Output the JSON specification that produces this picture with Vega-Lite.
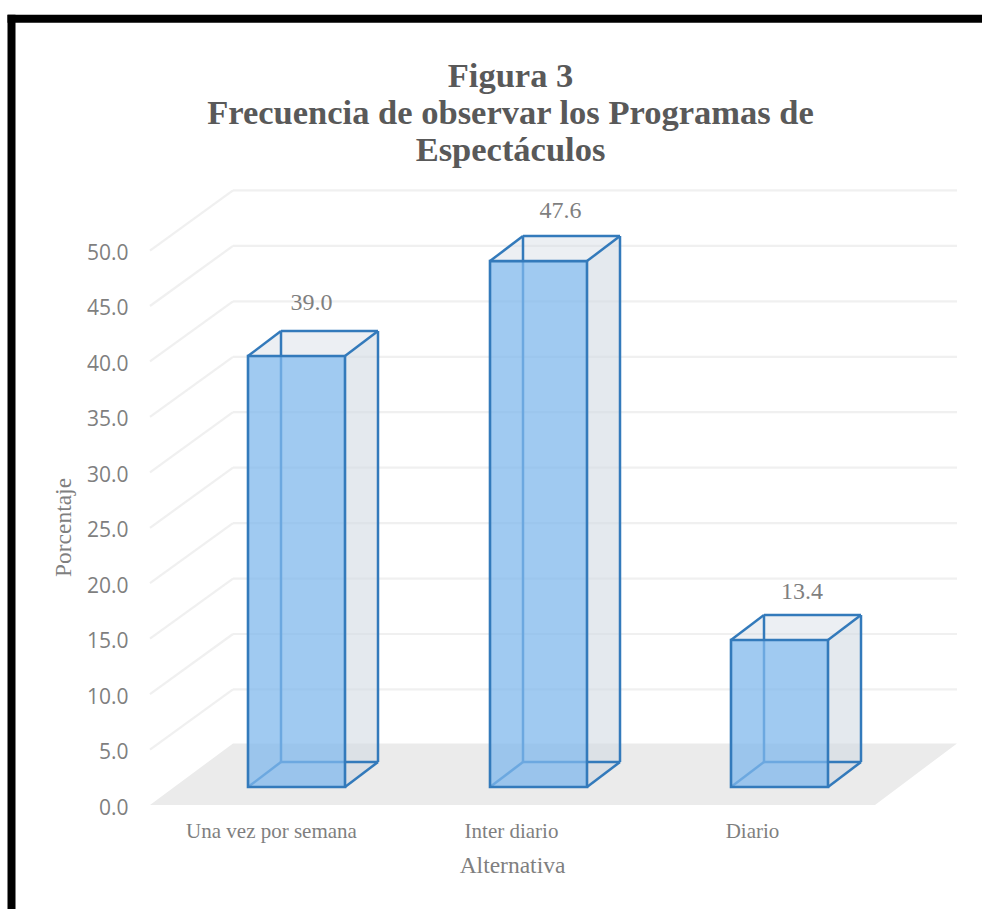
{
"$schema":"https://vega.github.io/schema/vega-lite/v6.json",
"width":807,"height":616,
"autosize":{"type":"none"},
"padding":{"left":150,"top":189,"right":25,"bottom":104},
"background":"white",
"view":{"stroke":null},
"title":{"text":["Figura 3","Frecuencia de observar los Programas de","Espectáculos"],"font":"Liberation Serif","fontSize":34.5,"fontWeight":"bold","color":"#595959","anchor":"middle","dx":-43,"dy":167,"lineHeight":37,"offset":12},
"datasets":{
"grid":[
{"v":5,"x":0,"y":5,"x2":83,"y2":10.42},{"v":5,"x":83,"y":10.42,"x2":807,"y2":10.42},
{"v":10,"x":0,"y":10,"x2":83,"y2":15.42},{"v":10,"x":83,"y":15.42,"x2":807,"y2":15.42},
{"v":15,"x":0,"y":15,"x2":83,"y2":20.42},{"v":15,"x":83,"y":20.42,"x2":807,"y2":20.42},
{"v":20,"x":0,"y":20,"x2":83,"y2":25.42},{"v":20,"x":83,"y":25.42,"x2":807,"y2":25.42},
{"v":25,"x":0,"y":25,"x2":83,"y2":30.42},{"v":25,"x":83,"y":30.42,"x2":807,"y2":30.42},
{"v":30,"x":0,"y":30,"x2":83,"y2":35.42},{"v":30,"x":83,"y":35.42,"x2":807,"y2":35.42},
{"v":35,"x":0,"y":35,"x2":83,"y2":40.42},{"v":35,"x":83,"y":40.42,"x2":807,"y2":40.42},
{"v":40,"x":0,"y":40,"x2":83,"y2":45.42},{"v":40,"x":83,"y":45.42,"x2":807,"y2":45.42},
{"v":45,"x":0,"y":45,"x2":83,"y2":50.42},{"v":45,"x":83,"y":50.42,"x2":807,"y2":50.42},
{"v":50,"x":0,"y":50,"x2":83,"y2":55.42},{"v":50,"x":83,"y":55.42,"x2":807,"y2":55.42}
],
"floor":[{"x":0,"hi":0,"lo":0},{"x":83,"hi":5.55,"lo":0},{"x":725,"hi":5.55,"lo":0},{"x":807,"hi":5.55,"lo":5.55}],
"faces":[
{"id":"s1","face":"side","x":195,"lo":1.62,"hi":40.49},{"id":"s1","face":"side","x":228,"lo":3.88,"hi":42.74},
{"id":"t1","face":"top","x":98,"lo":40.49,"hi":40.49},{"id":"t1","face":"top","x":131,"lo":40.49,"hi":42.74},{"id":"t1","face":"top","x":195,"lo":40.49,"hi":42.74},{"id":"t1","face":"top","x":228,"lo":42.74,"hi":42.74},
{"id":"b1","face":"bottom","x":98,"lo":1.62,"hi":1.62},{"id":"b1","face":"bottom","x":131,"lo":1.62,"hi":3.88},{"id":"b1","face":"bottom","x":195,"lo":1.62,"hi":3.88},{"id":"b1","face":"bottom","x":228,"lo":3.88,"hi":3.88},
{"id":"s2","face":"side","x":437,"lo":1.62,"hi":49.05},{"id":"s2","face":"side","x":470,"lo":3.88,"hi":51.31},
{"id":"t2","face":"top","x":340,"lo":49.05,"hi":49.05},{"id":"t2","face":"top","x":373,"lo":49.05,"hi":51.31},{"id":"t2","face":"top","x":437,"lo":49.05,"hi":51.31},{"id":"t2","face":"top","x":470,"lo":51.31,"hi":51.31},
{"id":"b2","face":"bottom","x":340,"lo":1.62,"hi":1.62},{"id":"b2","face":"bottom","x":373,"lo":1.62,"hi":3.88},{"id":"b2","face":"bottom","x":437,"lo":1.62,"hi":3.88},{"id":"b2","face":"bottom","x":470,"lo":3.88,"hi":3.88},
{"id":"s3","face":"side","x":678,"lo":1.62,"hi":14.88},{"id":"s3","face":"side","x":711,"lo":3.88,"hi":17.13},
{"id":"t3","face":"top","x":581,"lo":14.88,"hi":14.88},{"id":"t3","face":"top","x":614,"lo":14.88,"hi":17.13},{"id":"t3","face":"top","x":678,"lo":14.88,"hi":17.13},{"id":"t3","face":"top","x":711,"lo":17.13,"hi":17.13},
{"id":"b3","face":"bottom","x":581,"lo":1.62,"hi":1.62},{"id":"b3","face":"bottom","x":614,"lo":1.62,"hi":3.88},{"id":"b3","face":"bottom","x":678,"lo":1.62,"hi":3.88},{"id":"b3","face":"bottom","x":711,"lo":3.88,"hi":3.88}
],
"edges":[
{"x":98,"y":40.49,"x2":131,"y2":42.74},{"x":131,"y":42.74,"x2":228,"y2":42.74},{"x":195,"y":40.49,"x2":228,"y2":42.74},{"x":228,"y":42.74,"x2":228,"y2":3.88},{"x":195,"y":1.62,"x2":228,"y2":3.88},{"x":131,"y":3.88,"x2":228,"y2":3.88},{"x":98,"y":1.62,"x2":131,"y2":3.88},{"x":131,"y":3.88,"x2":131,"y2":42.74},
{"x":340,"y":49.05,"x2":373,"y2":51.31},{"x":373,"y":51.31,"x2":470,"y2":51.31},{"x":437,"y":49.05,"x2":470,"y2":51.31},{"x":470,"y":51.31,"x2":470,"y2":3.88},{"x":437,"y":1.62,"x2":470,"y2":3.88},{"x":373,"y":3.88,"x2":470,"y2":3.88},{"x":340,"y":1.62,"x2":373,"y2":3.88},{"x":373,"y":3.88,"x2":373,"y2":51.31},
{"x":581,"y":14.88,"x2":614,"y2":17.13},{"x":614,"y":17.13,"x2":711,"y2":17.13},{"x":678,"y":14.88,"x2":711,"y2":17.13},{"x":711,"y":17.13,"x2":711,"y2":3.88},{"x":678,"y":1.62,"x2":711,"y2":3.88},{"x":614,"y":3.88,"x2":711,"y2":3.88},{"x":581,"y":1.62,"x2":614,"y2":3.88},{"x":614,"y":3.88,"x2":614,"y2":17.13}
],
"bars":[
{"cat":"Una vez por semana","x0":98,"x1":195,"base":1.62,"top":40.49},
{"cat":"Inter diario","x0":340,"x1":437,"base":1.62,"top":49.05},
{"cat":"Diario","x0":581,"x1":678,"base":1.62,"top":14.88}
],
"labels":[
{"cat":"Una vez por semana","value":39.0,"x":161.5,"y":45.3},
{"cat":"Inter diario","value":47.6,"x":410.5,"y":53.6},
{"cat":"Diario","value":13.4,"x":652,"y":19.2}
],
"frame":[
{"x":-138.5,"y":70.9,"x2":840,"y2":70.9},
{"x":-138.5,"y":-10,"x2":-138.5,"y2":70.9}
]
},
"layer":[
{"data":{"name":"grid"},"mark":{"type":"rule","color":"#f0f0f0","strokeWidth":2.2,"clip":false},
"encoding":{
"x":{"field":"x","type":"quantitative","scale":{"domain":[0,807],"nice":false,"zero":false},
"axis":{"title":"Alternativa","values":[121,361,602],"labelExpr":"datum.value<200?'Una vez por semana':datum.value<500?'Inter diario':'Diario'","grid":false,"ticks":false,"domain":false,"labelFont":"Liberation Serif","labelFontSize":21,"labelColor":"#7f7f7f","labelPadding":15,"labelOverlap":false,"titleFont":"Liberation Serif","titleFontSize":23.5,"titleFontWeight":"normal","titleColor":"#7f7f7f","titleX":362,"titleY":67,"titleAlign":"center","titleBaseline":"alphabetic"}},
"x2":{"field":"x2"},
"y":{"field":"y","type":"quantitative","scale":{"domain":[0,55.55],"nice":false,"zero":false},
"axis":{"title":"Porcentaje","values":[0,5,10,15,20,25,30,35,40,45,50],"format":".1f","grid":false,"ticks":false,"domain":false,"labelFont":"Open Sans","labelFontSize":21,"labelColor":"#7f7f7f","labelPadding":22,"labelOffset":3,"titleFont":"Liberation Serif","titleFontSize":23.5,"titleFontWeight":"normal","titleColor":"#7f7f7f","titleX":-75,"titleY":338,"titleAlign":"center","titleAngle":-90}},
"y2":{"field":"y2"}}},
{"data":{"name":"floor"},"mark":{"type":"area","color":"#ebebeb","clip":false},
"encoding":{"x":{"field":"x","type":"quantitative"},"y":{"field":"hi","type":"quantitative","stack":null},"y2":{"field":"lo"}}},
{"data":{"name":"faces"},"mark":{"type":"area","color":"#d2dae3","clip":false},
"encoding":{"x":{"field":"x","type":"quantitative"},"y":{"field":"hi","type":"quantitative","stack":null},"y2":{"field":"lo"},"detail":{"field":"id"},
"opacity":{"field":"face","type":"nominal","scale":{"domain":["side","top","bottom"],"range":[0.6,0.25,0.6]},"legend":null}}},
{"data":{"name":"edges"},"mark":{"type":"rule","color":"#337abb","strokeWidth":2.5,"clip":false},
"encoding":{"x":{"field":"x","type":"quantitative"},"x2":{"field":"x2"},"y":{"field":"y","type":"quantitative"},"y2":{"field":"y2"}}},
{"data":{"name":"bars"},"mark":{"type":"rect","fill":"#80b8ec","fillOpacity":0.75,"stroke":"#337abb","strokeWidth":2.6,"clip":false},
"encoding":{"x":{"field":"x0","type":"quantitative"},"x2":{"field":"x1"},"y":{"field":"top","type":"quantitative"},"y2":{"field":"base"}}},
{"data":{"name":"labels"},"mark":{"type":"text","font":"Liberation Serif","fontSize":24,"color":"#7f7f7f","align":"center","baseline":"middle","clip":false},
"encoding":{"x":{"field":"x","type":"quantitative"},"y":{"field":"y","type":"quantitative"},"text":{"field":"value","type":"quantitative","format":".1f"}}},
{"data":{"name":"frame"},"mark":{"type":"rule","color":"#000000","strokeWidth":8,"strokeCap":"square","clip":false},
"encoding":{"x":{"field":"x","type":"quantitative"},"x2":{"field":"x2"},"y":{"field":"y","type":"quantitative"},"y2":{"field":"y2"}}}
]
}
